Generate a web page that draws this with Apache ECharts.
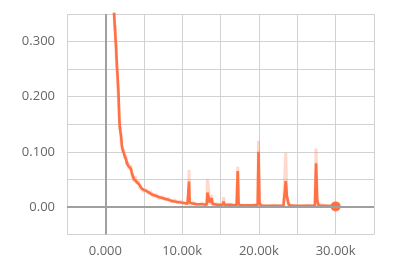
<!DOCTYPE html>
<html>
<head>
<meta charset="utf-8">
<script src="https://cdn.jsdelivr.net/npm/echarts@6/dist/echarts.min.js"></script>
<style>
html,body{margin:0;padding:0;background:#fff;}
#chart{width:400px;height:264px;}
</style>
</head>
<body>
<div id="chart"></div>
<script>
// Smoothed series (step, value)
const smoothSteps = [0,300,600,900,1100,1200,1300,1400,1500,1600,1700,1750,1800,1850,1950,2050,2150,2250,2400,2500,2650,2800,2950,3100,3300,3450,3600,3750,3900,4050,4250,4450,4700,5000,5300,5600,5900,6200,6600,7000,7400,7800,8200,8600,9000,9400,9800,10300,10700,10850,10900,10980,11400,12000,12600,13200,13300,13450,13600,13850,13950,14500,15300,15400,15500,16200,17100,17250,17350,17500,18500,19500,19850,19950,20080,20300,21000,22000,23200,23400,23500,23650,23900,24300,25500,26500,27300,27450,27600,27800,29000,30000];
const smoothValues = [0.95,0.75,0.55,0.42,0.36,0.335,0.31,0.29,0.255,0.235,0.21,0.19,0.165,0.15,0.137,0.128,0.112,0.104,0.098,0.093,0.088,0.08,0.075,0.072,0.07,0.062,0.055,0.05,0.052,0.046,0.044,0.04,0.034,0.031,0.029,0.027,0.024,0.022,0.02,0.018,0.016,0.015,0.013,0.011,0.010,0.009,0.008,0.007,0.006,0.006,0.046,0.008,0.006,0.005,0.005,0.004,0.026,0.024,0.008,0.016,0.006,0.004,0.004,0.010,0.004,0.004,0.003,0.065,0.007,0.003,0.003,0.003,0.004,0.100,0.008,0.002,0.002,0.002,0.002,0.030,0.047,0.020,0.004,0.002,0.002,0.002,0.002,0.079,0.012,0.002,0.002,0.001];

// Raw (unsmoothed) series (step, value)
const rawSteps = [0,300,600,900,1100,1200,1300,1400,1500,1600,1700,1750,1800,1850,1950,2050,2150,2250,2400,2500,2650,2800,2950,3100,3300,3450,3600,3750,3900,4050,4250,4450,4700,5000,5300,5600,5900,6200,6600,7000,7400,7800,8200,8600,9000,9400,9800,10300,10700,10850,10900,10980,11400,12000,12600,13200,13300,13450,13600,13850,13950,14500,15300,15400,15500,16200,17100,17250,17350,17500,18500,19500,19850,19950,20080,20300,21000,22000,23200,23400,23500,23650,23900,24300,25500,26500,27300,27450,27600,27800,29000,30000];
const rawValues = [0.98,0.72,0.58,0.40,0.37,0.32,0.33,0.27,0.265,0.22,0.22,0.18,0.175,0.14,0.145,0.118,0.12,0.098,0.105,0.088,0.094,0.076,0.082,0.068,0.076,0.058,0.06,0.046,0.056,0.042,0.048,0.036,0.038,0.028,0.032,0.024,0.028,0.019,0.023,0.015,0.019,0.012,0.016,0.009,0.013,0.007,0.011,0.005,0.008,0.004,0.067,0.003,0.008,0.003,0.007,0.002,0.050,0.030,0.004,0.022,0.003,0.006,0.002,0.018,0.002,0.005,0.001,0.073,0.003,0.004,0.001,0.004,0.001,0.120,0.003,0.003,0.001,0.003,0.001,0.060,0.098,0.012,0.002,0.003,0.001,0.003,0.001,0.106,0.006,0.003,0.001,0.002];

// Axis ticks and labels
const xTickValues = [0,10000,20000,30000];
const xTickLabels = ['0.000','10.00k','20.00k','30.00k'];
const yTickValues = [0,0.1,0.2,0.3];
const yTickLabels = ['0.00','0.100','0.200','0.300'];

const smoothData = smoothSteps.map((s,i)=>[s,smoothValues[i]]);
const rawData = rawSteps.map((s,i)=>[s,rawValues[i]]);
const lastIdx = smoothSteps.length-1;

function labelFor(vals, texts, v){
  for(let i=0;i<vals.length;i++){ if(Math.abs(vals[i]-v)<1e-9) return texts[i]; }
  return '';
}

const chart = echarts.init(document.getElementById('chart'), null, {renderer:'canvas'});
const gridColor = '#d2d2d2';
const textStyle = {color:'#666', fontFamily:'Open Sans', fontSize:13};
chart.setOption({
  animation:false,
  grid:{left:67,right:26,top:14,bottom:29.5,containLabel:false},
  xAxis:{
    type:'value', min:-5000, max:35000, interval:5000,
    axisLine:{show:false},
    axisTick:{show:true,length:5,lineStyle:{color:gridColor}},
    splitLine:{show:true,lineStyle:{color:gridColor,width:1}},
    axisLabel:Object.assign({margin:10,showMinLabel:true,showMaxLabel:true,
      formatter:v=>labelFor(xTickValues,xTickLabels,v)},textStyle)
  },
  yAxis:{
    type:'value', min:-0.05, max:0.35, interval:0.05,
    axisLine:{show:false},
    axisTick:{show:true,length:5,lineStyle:{color:gridColor}},
    splitLine:{show:true,lineStyle:{color:gridColor,width:1}},
    axisLabel:Object.assign({margin:12,
      formatter:v=>labelFor(yTickValues,yTickLabels,v)},textStyle)
  },
  series:[
    {
      type:'line', data:rawData, showSymbol:false, z:1,
      lineStyle:{color:'rgba(255,112,67,0.28)',width:3},
      markLine:{silent:true,symbol:'none',label:{show:false},
        lineStyle:{color:'#a0a0a0',width:2,type:'solid'},
        data:[{xAxis:0},{yAxis:0}]}
    },
    {
      type:'line', data:smoothData, showSymbol:false, z:2,
      lineStyle:{color:'#ff7043',width:2.6}
    },
    {
      type:'scatter', z:3, symbolSize:10,
      itemStyle:{color:'#ff7043',opacity:1},
      data:[[smoothSteps[lastIdx], smoothValues[lastIdx]]]
    }
  ]
});
</script>
</body>
</html>
